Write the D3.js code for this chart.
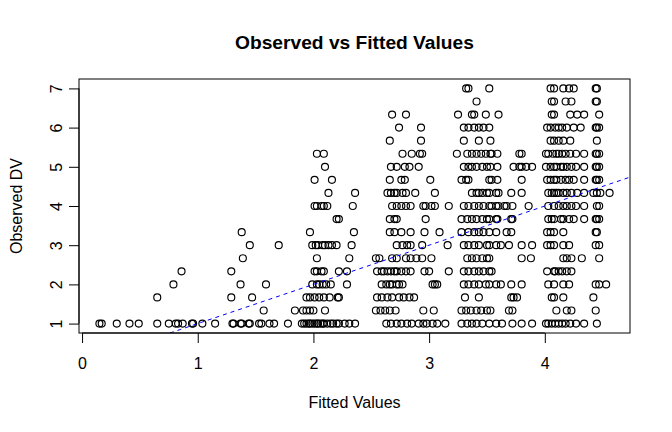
<!DOCTYPE html>
<html>
<head>
<meta charset="utf-8">
<script src="https://cdn.jsdelivr.net/npm/d3@7"></script>
<style>
  body { margin: 0; background: #fff; }
  text { font-family: "Liberation Sans", Arial, Helvetica, sans-serif; }
</style>
</head>
<body>
<div id="chart"></div>
<script>
var obs100 = [0.15, 0.17, 0.30, 0.41, 0.49, 0.65, 0.75, 0.81, 0.83, 0.87, 0.95, 0.96, 1.04, 1.15, 1.30, 1.31,
  1.37, 1.38, 1.44, 1.45, 1.53, 1.55, 1.62, 1.66, 1.78, 1.90, 1.92, 1.94, 1.96, 1.97, 1.99, 2.01, 2.03, 2.04,
  2.06, 2.08, 2.09, 2.12, 2.15, 2.17, 2.20, 2.22, 2.27, 2.31, 2.36, 2.63, 2.67, 2.72, 2.76, 2.81, 2.85, 2.91,
  2.95, 2.98, 3.03, 3.07, 3.14, 3.28, 3.33, 3.37, 3.41, 3.46, 3.52, 3.58, 3.63, 3.72, 3.80, 3.89, 4.01, 4.03,
  4.06, 4.09, 4.12, 4.15, 4.18, 4.22, 4.27, 4.34, 4.45];
var obs133 = [1.57, 1.84, 1.91, 1.94, 1.97, 2.00, 2.10, 2.54, 2.58, 2.62, 2.66, 2.71, 2.95, 3.04, 3.28, 3.32,
  3.36, 3.41, 3.45, 3.50, 3.53, 3.69, 3.72, 4.10, 4.19, 4.23, 4.44];
var obs167 = [0.65, 1.29, 1.47, 1.94, 1.97, 2.01, 2.05, 2.09, 2.14, 2.21, 2.22, 2.55, 2.59, 2.64, 2.68, 2.74,
  2.78, 2.83, 2.87, 3.31, 3.43, 3.71, 3.73, 3.76, 4.06, 4.08, 4.16, 4.42];
var obs200 = [0.79, 1.37, 1.59, 1.99, 2.03, 2.05, 2.08, 2.11, 2.15, 2.29, 2.59, 2.63, 2.66, 2.68, 2.72, 2.74,
  2.77, 3.03, 3.05, 3.07, 3.30, 3.34, 3.39, 3.43, 3.49, 3.52, 3.58, 3.62, 3.71, 3.80, 4.03, 4.08, 4.16, 4.21,
  4.44, 4.47, 4.53];
var obs233 = [0.86, 1.29, 2.01, 2.03, 2.07, 2.09, 2.22, 2.29, 2.55, 2.59, 2.61, 2.64, 2.67, 2.70, 2.72, 2.76,
  2.80, 2.84, 2.96, 3.00, 3.17, 3.30, 3.34, 3.39, 3.43, 3.47, 3.52, 3.54, 4.02, 4.08, 4.09, 4.12, 4.15, 4.19,
  4.23];
var obs267 = [1.39, 2.03, 2.31, 2.54, 2.57, 2.68, 2.72, 2.80, 2.84, 2.89, 2.94, 3.02, 3.33, 3.37, 3.41, 3.46,
  3.50, 3.52, 3.80, 3.88, 4.16, 4.19, 4.23, 4.32, 4.47];
var obs300 = [1.45, 1.70, 1.99, 2.02, 2.04, 2.08, 2.10, 2.13, 2.16, 2.20, 2.33, 2.72, 2.77, 2.81, 2.84, 2.94,
  3.16, 3.30, 3.34, 3.39, 3.43, 3.50, 3.52, 3.58, 3.62, 3.69, 3.80, 3.89, 4.02, 4.05, 4.08, 4.16, 4.21, 4.44,
  4.47];
var obs333 = [1.38, 1.97, 2.35, 2.66, 2.70, 2.76, 2.84, 2.96, 3.09, 3.28, 3.34, 3.39, 3.43, 3.47, 3.52, 3.58,
  3.67, 3.71, 4.02, 4.05, 4.08, 4.16, 4.44, 4.45];
var obs367 = [2.20, 2.22, 2.66, 2.70, 2.72, 2.97, 3.28, 3.33, 3.37, 3.41, 3.46, 3.50, 3.52, 3.58, 3.59, 3.71,
  3.72, 4.03, 4.06, 4.08, 4.14, 4.16, 4.21, 4.25, 4.34, 4.44, 4.45, 4.47];
var obs400 = [2.01, 2.03, 2.07, 2.09, 2.12, 2.34, 2.68, 2.72, 2.76, 2.80, 2.84, 2.95, 2.97, 3.02, 3.05, 3.17,
  3.30, 3.34, 3.39, 3.43, 3.47, 3.52, 3.54, 3.58, 3.60, 3.65, 3.67, 3.72, 3.86, 4.03, 4.08, 4.12, 4.16, 4.19,
  4.23, 4.27, 4.34, 4.45, 4.47];
var obs433 = [2.13, 2.36, 2.64, 2.67, 2.70, 2.72, 2.77, 2.80, 2.88, 3.05, 3.37, 3.41, 3.43, 3.46, 3.50, 3.52,
  3.58, 3.60, 3.71, 3.80, 4.03, 4.06, 4.08, 4.10, 4.12, 4.16, 4.19, 4.23, 4.28, 4.34, 4.42, 4.45, 4.48, 4.56];
var obs467 = [2.01, 2.16, 2.66, 2.76, 2.79, 3.01, 3.28, 3.32, 3.34, 3.52, 3.54, 3.59, 3.80, 4.02, 4.05, 4.08,
  4.10, 4.14, 4.18, 4.21, 4.25, 4.34, 4.44, 4.45, 4.47];
var obs500 = [2.10, 2.67, 2.72, 2.79, 2.83, 2.91, 3.30, 3.34, 3.37, 3.41, 3.46, 3.50, 3.53, 3.59, 3.73, 3.78,
  3.80, 3.84, 3.89, 4.01, 4.05, 4.08, 4.10, 4.14, 4.16, 4.19, 4.23, 4.27, 4.34, 4.44, 4.45, 4.47];
var obs533 = [2.03, 2.09, 2.77, 2.85, 2.92, 2.94, 3.24, 3.33, 3.37, 3.41, 3.45, 3.49, 3.53, 3.54, 3.59, 3.78,
  3.80, 4.01, 4.03, 4.07, 4.10, 4.12, 4.15, 4.18, 4.22, 4.27, 4.34, 4.44, 4.45, 4.47];
var obs567 = [2.66, 2.93, 3.30, 3.43, 3.53, 4.05, 4.08, 4.12, 4.16, 4.22, 4.45];
var obs600 = [2.74, 2.93, 3.30, 3.34, 3.39, 3.43, 3.47, 3.52, 4.02, 4.05, 4.09, 4.12, 4.15, 4.19, 4.25, 4.31,
  4.44, 4.45, 4.47];
var obs633 = [2.68, 2.80, 3.25, 3.37, 3.39, 3.49, 3.60, 4.06, 4.08, 4.22, 4.28, 4.34, 4.47];
var obs667 = [3.41, 4.06, 4.08, 4.18, 4.23, 4.44, 4.45];
var obs700 = [3.32, 3.34, 3.52, 4.05, 4.08, 4.16, 4.21, 4.25, 4.44, 4.45];

var levels = [
  [1.000, obs100], [1.333, obs133], [1.667, obs167], [2.000, obs200], [2.333, obs233],
  [2.667, obs267], [3.000, obs300], [3.333, obs333], [3.667, obs367], [4.000, obs400],
  [4.333, obs433], [4.667, obs467], [5.000, obs500], [5.333, obs533], [5.667, obs567],
  [6.000, obs600], [6.333, obs633], [6.667, obs667], [7.000, obs700]
];

var xTicks = [0, 1, 2, 3, 4];
var yTicks = [1, 2, 3, 4, 5, 6, 7];
// reference line y = a + b*x
var refLine = {a: 0, b: 1};

var points = [];
levels.forEach(function (lv) {
    lv[1].forEach(function (f) {
        points.push({fitted: f, observed: lv[0]});
    });
});

var W = 672, H = 432;
// plot box (note: "top" is reserved on window)
var boxL = 79, boxR = 630, boxT = 79, boxB = 333;

// R style: data range padded by 4% each side
var xr = d3.extent(points, function (d) { return d.fitted; });
var yr = d3.extent(points, function (d) { return d.observed; });
var xp = (xr[1] - xr[0]) * 0.04, yp = (yr[1] - yr[0]) * 0.04;

var x = d3.scaleLinear().domain([xr[0] - xp, xr[1] + xp]).range([boxL, boxR]);
var y = d3.scaleLinear().domain([yr[0] - yp, yr[1] + yp]).range([boxB, boxT]);

var svg = d3.select("#chart")
        .append("svg")
        .attr("width", W)
        .attr("height", H);

svg.append("defs").append("clipPath")
        .attr("id", "plotclip")
        .append("rect")
        .attr("x", boxL)
        .attr("y", boxT)
        .attr("width", boxR - boxL)
        .attr("height", boxB - boxT);

// points
svg.append("g")
        .selectAll("circle")
        .data(points)
        .enter()
        .append("circle")
        .attr("cx", function (d) { return x(d.fitted); })
        .attr("cy", function (d) { return y(d.observed); })
        .attr("r", 3.5)
        .attr("fill", "none")
        .attr("stroke", "#000")
        .attr("stroke-width", 1.15);

// dashed reference line
var xd = x.domain();
svg.append("line")
        .attr("clip-path", "url(#plotclip)")
        .attr("x1", x(xd[0]))
        .attr("y1", y(refLine.a + refLine.b * xd[0]))
        .attr("x2", x(xd[1]))
        .attr("y2", y(refLine.a + refLine.b * xd[1]))
        .attr("stroke", "#0000ff")
        .attr("stroke-width", 1)
        .attr("stroke-dasharray", "4,4");

// box
svg.append("rect")
        .attr("x", boxL)
        .attr("y", boxT)
        .attr("width", boxR - boxL)
        .attr("height", boxB - boxT)
        .attr("fill", "none")
        .attr("stroke", "#000")
        .attr("stroke-width", 1);

// axes
var xAxis = svg.append("g")
        .attr("transform", "translate(0," + boxB + ")")
        .call(d3.axisBottom(x).tickValues(xTicks).tickSize(10).tickFormat(d3.format("d")));
xAxis.select(".domain")
        .attr("d", "M" + x(xTicks[0]) + ",0H" + x(xTicks[xTicks.length - 1]));
xAxis.selectAll("text")
        .attr("y", 36)
        .attr("dy", null)
        .attr("font-size", 16)
        .attr("fill", "#000");

var yAxis = svg.append("g")
        .attr("transform", "translate(" + boxL + ",0)")
        .call(d3.axisLeft(y).tickValues(yTicks).tickSize(10).tickFormat(d3.format("d")));
yAxis.select(".domain")
        .attr("d", "M0," + y(yTicks[0]) + "V" + y(yTicks[yTicks.length - 1]));
yAxis.selectAll(".tick text")
        .attr("x", null)
        .attr("dy", null)
        .attr("text-anchor", "middle")
        .attr("transform", "translate(-17,0) rotate(-90)")
        .attr("font-size", 16)
        .attr("fill", "#000");

svg.selectAll(".tick line, .domain").attr("stroke", "#000");
svg.selectAll(".tick text").attr("font-family", "Liberation Sans, Arial, sans-serif");

// titles
svg.append("text")
        .attr("x", (boxL + boxR) / 2)
        .attr("y", 49)
        .attr("text-anchor", "middle")
        .attr("font-size", 19.2)
        .attr("font-weight", "bold")
        .text("Observed vs Fitted Values");

svg.append("text")
        .attr("x", (boxL + boxR) / 2)
        .attr("y", 408)
        .attr("text-anchor", "middle")
        .attr("font-size", 16)
        .text("Fitted Values");

svg.append("text")
        .attr("transform", "translate(22," + ((boxT + boxB) / 2) + ") rotate(-90)")
        .attr("text-anchor", "middle")
        .attr("font-size", 16)
        .text("Observed DV");
</script>
</body>
</html>
